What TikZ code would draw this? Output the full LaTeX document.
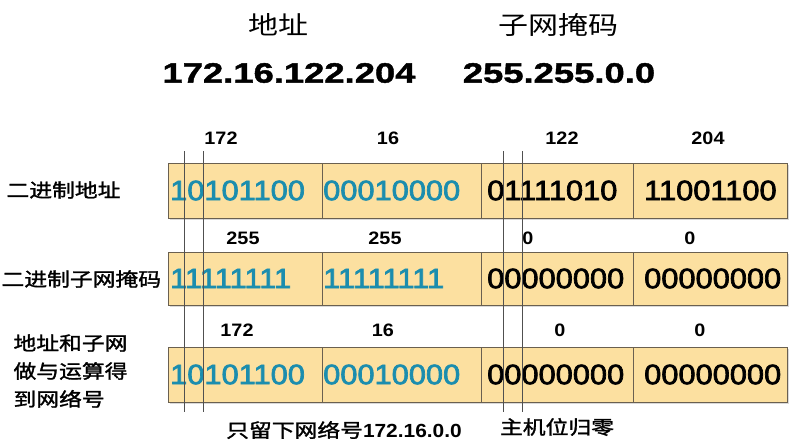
\documentclass[tikz,border=0pt]{standalone}
\usepackage{fontspec}
\setmainfont{Liberation Sans}[FakeStretch = 1.1]
\newfontfamily\bitfont{Liberation Sans}[FakeStretch = 1.1, FakeBold = 2.5]
\newfontfamily\headfont{Liberation Sans}[FakeStretch = 1.3, FakeBold = 1.5]
\newfontfamily\cjk{Noto Sans CJK SC}[FakeStretch = 1.2]
\newfontfamily\cjkmid{Noto Sans CJK SC}[FakeStretch = 1.2, FakeBold = 1.5]
\usetikzlibrary{shadows}
\definecolor{OctetFill}{HTML}{FCE0A0}
\definecolor{OctetLine}{HTML}{6A6050}
\definecolor{NetBlue}{HTML}{1B8DAE}
\definecolor{CutGray}{HTML}{505050}

\begin{document}
\begin{tikzpicture}[x = 1pt, y = -1pt,
    octet/.style = {draw = OctetLine, fill = OctetFill, line width = 0.8pt, anchor = west, inner sep = 0pt,
        drop shadow = {shadow xshift = 1.5pt, shadow yshift = -1.5pt, opacity = 0.3}},
    bits/.style = {anchor = west, inner sep = 0pt, font = \bitfont\fontsize{28}{28}\selectfont},
    value/.style = {font = \fontsize{18}{18}\selectfont\bfseries},
    rowname/.style = {anchor = west, align = left, font = \cjkmid\fontsize{19}{28}\selectfont},
    note/.style = {font = \fontsize{19}{19}\selectfont\bfseries}]
    \useasboundingbox (0, 0) rectangle (796, 445);

    \node [font = \cjk\fontsize{25}{25}\selectfont] (addr head) at (278, 25) {地址};
    \node [font = \cjk\fontsize{25}{25}\selectfont] (mask head) at (558, 25) {子网掩码};
    \node [font = \headfont\fontsize{28}{28}\selectfont\bfseries] (addr value) at (289, 73) {172.16.122.204};
    \node [font = \headfont\fontsize{28}{28}\selectfont\bfseries] (mask value) at (559, 73) {255.255.0.0};

    \foreach \row/\y/\h/\ly [count = \m] in {
        {10101100/NetBlue/172/221, 00010000/NetBlue/16/388, 01111010/black/122/562, 11001100/black/204/708}/190.5/55/138,
        {11111111/NetBlue/255/243, 11111111/NetBlue/255/385, 00000000/black/0/528, 00000000/black/0/690}/278.5/53/238,
        {10101100/NetBlue/172/237, 00010000/NetBlue/16/383, 00000000/black/0/560, 00000000/black/0/700}/374.5/55/330} {
        \foreach \code/\col/\val/\vx [count = \n] in \row {
            \pgfmathsetmacro\boxx{{168, 322, 481, 633}[\n - 1]}
            \pgfmathsetmacro\boxw{{154, 159, 152, 154}[\n - 1]}
            \pgfmathsetmacro\boxpad{{2, 1, 6, 11}[\n - 1]}
            \node [octet, minimum width = \boxw pt, minimum height = \h pt] (oct-\m-\n) at (\boxx, \y) {};
            \node [bits, text = \col] (bits-\m-\n) at ([xshift = \boxpad pt] oct-\m-\n.west) {\code};
            \node [value] (val-\m-\n) at (\vx, \ly) {\val};
        }
    }

    \foreach \x in {184, 203, 503, 522} {
        \draw [CutGray, line width = 0.7pt] (\x, 151) -- (\x, 412);
    }

    \node [rowname] (addr bits) at (3, 190) {二进制地址};
    \node [rowname] (mask bits) at (-2, 279) {二进制子网掩码};
    \node [rowname] (and bits) at (10, 371) {地址和子网\\做与运算得\\到网络号};

    \node [note] (net note) at (344, 430) {{\cjkmid\mdseries 只留下网络号}172.16.0.0};
    \node [note] (host note) at (557, 427) {\cjkmid\mdseries 主机位归零};
\end{tikzpicture}
\end{document}
